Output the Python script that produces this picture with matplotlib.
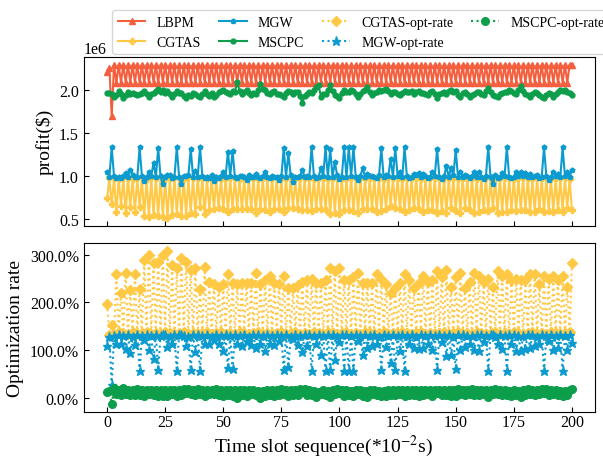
import numpy as np
import matplotlib
matplotlib.use('Agg')
import matplotlib.pyplot as plt
from matplotlib.ticker import PercentFormatter

plt.rcParams['font.family'] = ['Liberation Serif', 'DejaVu Serif']
plt.rcParams['mathtext.fontset'] = 'stix'

# profit per time slot, in units of 1e6 $
lbpm = [2.20, 2.25, 1.69, 2.29, 2.08, 2.29, 2.08, 2.29, 2.08, 2.29,
        2.08, 2.29, 2.08, 2.29, 2.08, 2.29, 2.08, 2.29, 2.08, 2.29,
        2.08, 2.29, 2.08, 2.29, 2.08, 2.29, 2.08, 2.29, 2.08, 2.29,
        2.08, 2.29, 2.08, 2.29, 2.08, 2.29, 2.08, 2.29, 2.08, 2.29,
        2.08, 2.29, 2.08, 2.29, 2.08, 2.29, 2.08, 2.29, 2.08, 2.29,
        2.08, 2.29, 2.08, 2.29, 2.08, 2.29, 2.08, 2.29, 2.08, 2.29,
        2.08, 2.29, 2.08, 2.29, 2.08, 2.29, 2.08, 2.29, 2.08, 2.29,
        2.08, 2.29, 2.08, 2.29, 2.08, 2.29, 2.08, 2.29, 2.08, 2.29,
        2.08, 2.29, 2.08, 2.29, 2.08, 2.29, 2.08, 2.29, 2.08, 2.29,
        2.08, 2.29, 2.08, 2.29, 2.08, 2.29, 2.08, 2.29, 2.08, 2.29,
        2.08, 2.29, 2.08, 2.29, 2.08, 2.29, 2.08, 2.29, 2.08, 2.29,
        2.08, 2.29, 2.08, 2.29, 2.08, 2.29, 2.08, 2.29, 2.08, 2.29,
        2.08, 2.29, 2.08, 2.29, 2.08, 2.29, 2.08, 2.29, 2.08, 2.29,
        2.08, 2.29, 2.08, 2.29, 2.08, 2.29, 2.08, 2.29, 2.08, 2.29,
        2.08, 2.29, 2.08, 2.29, 2.08, 2.29, 2.08, 2.29, 2.08, 2.29,
        2.08, 2.29, 2.08, 2.29, 2.08, 2.29, 2.08, 2.29, 2.08, 2.29,
        2.08, 2.29, 2.08, 2.29, 2.08, 2.29, 2.08, 2.29, 2.08, 2.29,
        2.08, 2.29, 2.08, 2.29, 2.08, 2.29, 2.08, 2.29, 2.08, 2.29,
        2.08, 2.29, 2.08, 2.29, 2.08, 2.29, 2.08, 2.29, 2.08, 2.29,
        2.08, 2.29, 2.08, 2.29, 2.08, 2.29, 2.08, 2.29, 2.08, 2.29,
        2.29]

cgtas = [0.74, 0.97, 0.67, 0.975, 0.58, 0.965, 0.65, 0.97, 0.575, 0.98,
         0.64, 0.965, 0.58, 0.975, 0.635, 0.97, 0.535, 0.965, 0.52, 0.975,
         0.545, 0.97, 0.54, 0.98, 0.52, 0.965, 0.51, 0.97, 0.55, 0.975,
         0.56, 0.97, 0.53, 0.965, 0.54, 0.975, 0.565, 0.97, 0.56, 0.98,
         0.635, 0.97, 0.555, 0.965, 0.605, 0.975, 0.615, 0.97, 0.625, 0.965,
         0.615, 0.975, 0.58, 0.97, 0.61, 0.98, 0.615, 0.965, 0.61, 0.97,
         0.61, 0.975, 0.61, 0.97, 0.575, 0.965, 0.615, 0.975, 0.60, 0.97,
         0.585, 0.98, 0.61, 0.97, 0.615, 0.965, 0.585, 0.975, 0.63, 0.97,
         0.63, 0.965, 0.62, 0.975, 0.605, 0.97, 0.60, 0.98, 0.595, 0.965,
         0.61, 0.97, 0.61, 0.975, 0.60, 0.965, 0.56, 0.97, 0.57, 0.975,
         0.56, 0.97, 0.60, 0.965, 0.60, 0.975, 0.59, 0.97, 0.575, 0.98,
         0.61, 0.965, 0.61, 0.97, 0.61, 0.975, 0.58, 0.97, 0.595, 0.965,
         0.615, 0.975, 0.65, 0.97, 0.63, 0.98, 0.61, 0.965, 0.58, 0.97,
         0.60, 0.975, 0.63, 0.97, 0.61, 0.965, 0.585, 0.975, 0.605, 0.97,
         0.60, 0.98, 0.57, 0.97, 0.59, 0.965, 0.565, 0.975, 0.625, 0.97,
         0.59, 0.965, 0.575, 0.975, 0.63, 0.97, 0.605, 0.98, 0.575, 0.965,
         0.585, 0.97, 0.605, 0.975, 0.595, 0.97, 0.625, 0.965, 0.57, 0.975,
         0.585, 0.97, 0.58, 0.98, 0.60, 0.965, 0.595, 0.97, 0.60, 0.975,
         0.60, 0.97, 0.58, 0.965, 0.58, 0.975, 0.615, 0.97, 0.585, 0.98,
         0.595, 0.965, 0.585, 0.97, 0.60, 0.975, 0.585, 0.97, 0.625, 0.965,
         0.60]

mgw = [1.05, 0.99, 1.33, 0.995, 0.98, 0.985, 0.98, 1.00, 1.03, 0.99,
       1.07, 1.005, 0.99, 0.985, 1.33, 0.995, 0.94, 0.99, 1.04, 1.00,
       1.15, 0.985, 1.32, 0.995, 0.90, 0.99, 1.01, 1.005, 0.98, 0.99,
       1.33, 0.985, 0.90, 0.995, 1.00, 1.01, 1.31, 0.99, 1.06, 0.985,
       1.33, 0.995, 0.98, 0.99, 0.98, 1.005, 0.94, 0.985, 0.98, 0.995,
       1.05, 0.99, 1.28, 1.00, 1.29, 0.985, 0.98, 0.995, 1.00, 0.99,
       0.95, 1.005, 0.985, 0.99, 1.02, 0.985, 0.98, 0.995, 1.05, 0.99,
       0.98, 1.00, 0.99, 0.985, 0.95, 0.995, 1.32, 0.99, 1.26, 1.005,
       0.93, 0.985, 0.99, 0.995, 1.065, 0.99, 1.00, 0.985, 1.33, 1.00,
       0.98, 0.99, 1.09, 0.995, 1.33, 0.985, 1.31, 0.99, 1.16, 1.005,
       0.96, 0.99, 1.33, 0.985, 1.33, 0.995, 1.33, 0.99, 0.95, 1.00,
       1.09, 0.985, 1.02, 0.995, 1.00, 0.99, 0.98, 1.005, 1.32, 0.985,
       1.01, 0.995, 1.20, 0.99, 1.32, 1.00, 1.05, 0.985, 1.33, 0.995,
       0.98, 0.99, 1.02, 1.005, 1.03, 0.985, 1.02, 0.995, 0.98, 0.99,
       1.04, 1.00, 1.31, 0.985, 0.96, 0.995, 1.11, 0.99, 1.09, 1.005,
       1.30, 0.985, 1.04, 0.99, 1.01, 0.995, 0.98, 1.00, 1.04, 0.985,
       1.05, 0.99, 0.96, 0.995, 1.33, 0.985, 0.90, 1.005, 0.98, 0.99,
       1.03, 0.995, 1.33, 0.985, 0.98, 0.99, 1.05, 1.00, 1.05, 0.995,
       1.03, 0.985, 1.02, 0.99, 1.00, 1.005, 0.98, 0.985, 1.33, 0.995,
       0.95, 0.99, 1.04, 1.00, 1.02, 0.985, 1.33, 0.995, 1.04, 0.99,
       1.07]

mscpc = [1.965, 1.96, 1.955, 1.91, 1.94, 1.98, 1.95, 1.90, 1.94, 1.97,
         1.95, 1.96, 1.955, 1.94, 1.95, 1.96, 1.98, 1.95, 1.92, 1.95,
         1.96, 1.98, 2.01, 1.97, 1.99, 1.96, 1.98, 1.95, 1.91, 1.95,
         1.98, 1.96, 1.96, 1.93, 1.90, 1.94, 1.93, 1.96, 1.95, 1.93,
         1.92, 1.95, 1.98, 1.95, 1.93, 1.96, 1.91, 1.94, 1.97, 1.98,
         2.00, 1.97, 1.965, 1.95, 1.985, 1.97, 2.09, 1.98, 1.955, 1.97,
         1.99, 1.96, 1.94, 1.96, 1.955, 1.99, 2.07, 2.01, 1.99, 1.96,
         1.955, 1.97, 1.98, 1.95, 1.955, 1.94, 1.92, 1.96, 1.985, 1.97,
         1.955, 1.97, 1.97, 1.93, 1.845, 1.93, 1.955, 1.97, 1.96, 1.99,
         2.03, 2.05, 1.92, 1.95, 1.955, 1.99, 2.05, 1.98, 1.94, 1.93,
         1.90, 1.96, 2.00, 1.97, 1.97, 1.99, 1.985, 1.95, 1.92, 1.95,
         1.98, 2.00, 2.03, 1.97, 1.94, 1.96, 1.97, 1.99, 1.985, 2.00,
         2.01, 1.98, 1.955, 1.97, 1.97, 1.95, 1.94, 1.96, 1.985, 1.97,
         1.97, 1.98, 1.955, 1.97, 1.98, 1.96, 1.965, 1.95, 1.94, 1.97,
         1.98, 1.95, 1.90, 1.95, 1.965, 1.97, 1.955, 1.98, 2.00, 1.97,
         1.98, 1.94, 1.92, 1.96, 1.975, 1.95, 1.91, 1.94, 1.95, 1.97,
         1.97, 1.95, 1.94, 1.98, 2.02, 1.97, 1.94, 1.93, 1.91, 1.95,
         1.96, 1.97, 1.97, 1.99, 1.98, 1.96, 1.955, 1.99, 2.04, 1.98,
         1.955, 1.94, 1.92, 1.95, 1.97, 1.96, 1.94, 1.92, 1.90, 1.94,
         1.965, 1.95, 1.92, 1.95, 1.97, 1.99, 1.98, 2.00, 1.97, 1.96,
         1.94]

slots = np.arange(len(lbpm))
lbpm = np.array(lbpm) * 1e6
cgtas = np.array(cgtas) * 1e6
mgw = np.array(mgw) * 1e6
mscpc = np.array(mscpc) * 1e6

# optimization rate of LBPM over each baseline
rate_cgtas = lbpm / cgtas - 1
rate_mgw = lbpm / mgw - 1
rate_mscpc = lbpm / mscpc - 1

c_red = '#F4603F'
c_yel = '#FFC845'
c_blue = '#0C9BCF'
c_green = '#0D9E4B'

fig = plt.figure(figsize=(6.03, 4.60), dpi=100)
ax1 = fig.add_axes([0.139, 0.507, 0.848, 0.367])
ax2 = fig.add_axes([0.139, 0.102, 0.848, 0.367], sharex=ax1)

ax1.plot(slots, lbpm, color=c_red, marker='^', ms=4, lw=1.5, label='LBPM')
ax1.plot(slots, cgtas, color=c_yel, marker='P', ms=4, lw=1.5, label='CGTAS')
ax1.plot(slots, mgw, color=c_blue, marker='p', ms=3.5, lw=1.5, label='MGW')
ax1.plot(slots, mscpc, color=c_green, marker='o', ms=3.5, lw=1.5, label='MSCPC')

ax2.plot(slots, rate_cgtas, color=c_yel, marker='D', ms=5.5, lw=1.5, ls=':',
         label='CGTAS-opt-rate')
ax2.plot(slots, rate_mgw, color=c_blue, marker='*', ms=6.5, lw=1.5, ls=':',
         label='MGW-opt-rate')
ax2.plot(slots, rate_mscpc, color=c_green, marker='o', ms=5.5, lw=1.5, ls=':',
         label='MSCPC-opt-rate')

ax1.set_ylabel('profit($)', fontsize=14)
ax2.set_ylabel('Optimization rate', fontsize=14)
ax2.set_xlabel(r'Time slot sequence(*10$^{-2}$s)', fontsize=14)
ax2.xaxis.set_label_coords(0.468, -0.12)
ax2.yaxis.set_major_formatter(PercentFormatter(xmax=1, decimals=1))
ax2.set_yticks([0, 1, 2, 3])

for ax in (ax1, ax2):
    ax.tick_params(direction='in', labelsize=11.5)
ax2.tick_params(axis='x', pad=1.5)
ax1.tick_params(axis='x', labelbottom=False)
ax1.yaxis.get_offset_text().set_fontsize(11.5)

h1, l1 = ax1.get_legend_handles_labels()
h2, l2 = ax2.get_legend_handles_labels()
fig.legend(h1 + h2, l1 + l2, loc='upper left', bbox_to_anchor=(0.186, 0.976),
           borderaxespad=0, ncol=4, fontsize=10, handlelength=2.0,
           columnspacing=1.3)

fig.savefig('out.png', dpi=100)
